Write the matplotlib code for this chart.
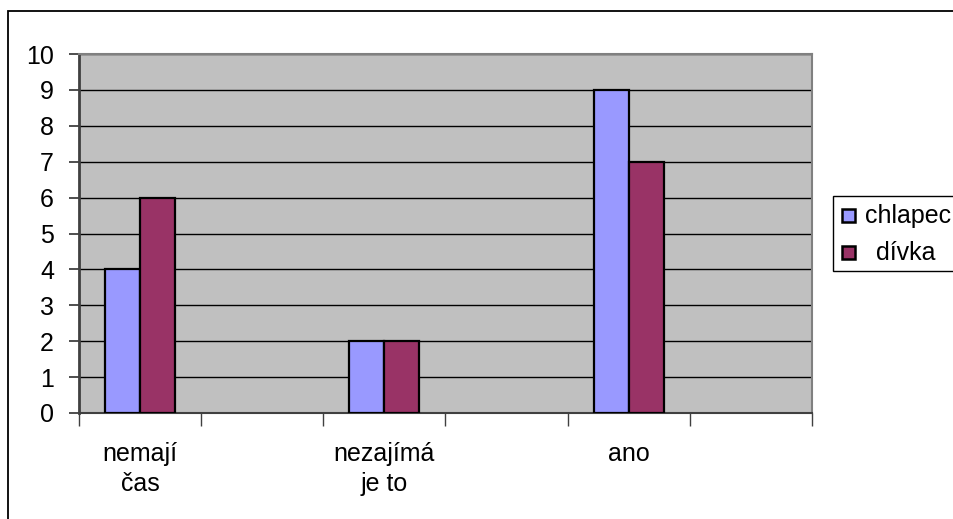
import matplotlib
matplotlib.use("Agg")
import matplotlib.pyplot as plt
from matplotlib.patches import Rectangle

plt.rcParams['font.family'] = ['Liberation Sans', 'DejaVu Sans']

# Category slots (the blank slots are empty categories in the source table)
categories = ["nemají\nčas", "", "nezajímá\nje to", "", "ano", ""]
series_names = ["chlapec", "dívka"]
chlapec = [4, None, 2, None, 9, None]
divka = [6, None, 2, None, 7, None]
y_ticks = list(range(0, 11))

colors = ["#9999FF", "#993366"]
FS = 18

W, H = 954, 519
fig = plt.figure(figsize=(W / 100, H / 100), dpi=100)
fig.patch.set_facecolor("white")

# outer chart frame
fig.patches.append(Rectangle((8 / W, -0.05), 1.2, (H - 11) / H + 0.05,
                             transform=fig.transFigure, fill=False,
                             edgecolor="#000000", linewidth=1.3))

ax = fig.add_axes([79 / W, (H - 413) / H, (812 - 79) / W, (413 - 54) / H])
ax.set_facecolor("#C0C0C0")

bar_w = 0.287
n = len(categories)
centers = [i + 0.5 for i in range(n)]
for k, (vals, col) in enumerate(zip([chlapec, divka], colors)):
    xs = [c for c, v in zip(centers, vals) if v is not None]
    hs = [v for v in vals if v is not None]
    offset = -bar_w / 2 if k == 0 else bar_w / 2
    ax.bar([x + offset for x in xs], hs, width=bar_w, color=col,
           edgecolor="black", linewidth=1.6, zorder=3)

ax.set_xlim(0, n)
ax.set_ylim(0, 10)
ax.set_yticks(y_ticks)
ax.set_yticklabels([str(t) for t in y_ticks])
ax.yaxis.grid(True, color="black", linewidth=1.0, zorder=1)
ax.set_axisbelow(True)

# category boundary ticks and centered labels
ax.set_xticks(list(range(n + 1)))
ax.set_xticklabels([])
ax.set_xticks(centers, minor=True)
ax.set_xticklabels(categories, minor=True, linespacing=1.3)
ax.tick_params(axis="x", which="major", direction="out", length=9,
               width=1.0, color="#404040")
ax.tick_params(axis="x", which="minor", length=0, pad=21, labelsize=FS)
ax.tick_params(axis="y", direction="out", length=7, width=1.3,
               color="#404040", pad=11, labelsize=FS)

for s in ["top", "right"]:
    ax.spines[s].set_color("#808080")
    ax.spines[s].set_linewidth(1.5)
ax.spines["left"].set_color("#404040")
ax.spines["left"].set_linewidth(2.0)
ax.spines["bottom"].set_color("#404040")
ax.spines["bottom"].set_linewidth(1.5)

# legend box
fig.patches.append(Rectangle((833 / W, (H - 271) / H), 0.2, 75 / H,
                             transform=fig.transFigure, facecolor="white",
                             edgecolor="#000000", linewidth=1.0))
entries = [(216, 848, 865), (253, 848, 876)]
for (yc, px, tx), name, col in zip(entries, series_names, colors):
    fig.patches.append(Rectangle(((px - 6) / W, (H - yc - 6) / H), 13 / W, 13 / H,
                                 transform=fig.transFigure, facecolor=col,
                                 edgecolor="black", linewidth=1.8))
    fig.text(tx / W, (H - yc) / H, name, fontsize=FS, va="center",
             ha="left")

fig.savefig("out.png", dpi=100)
